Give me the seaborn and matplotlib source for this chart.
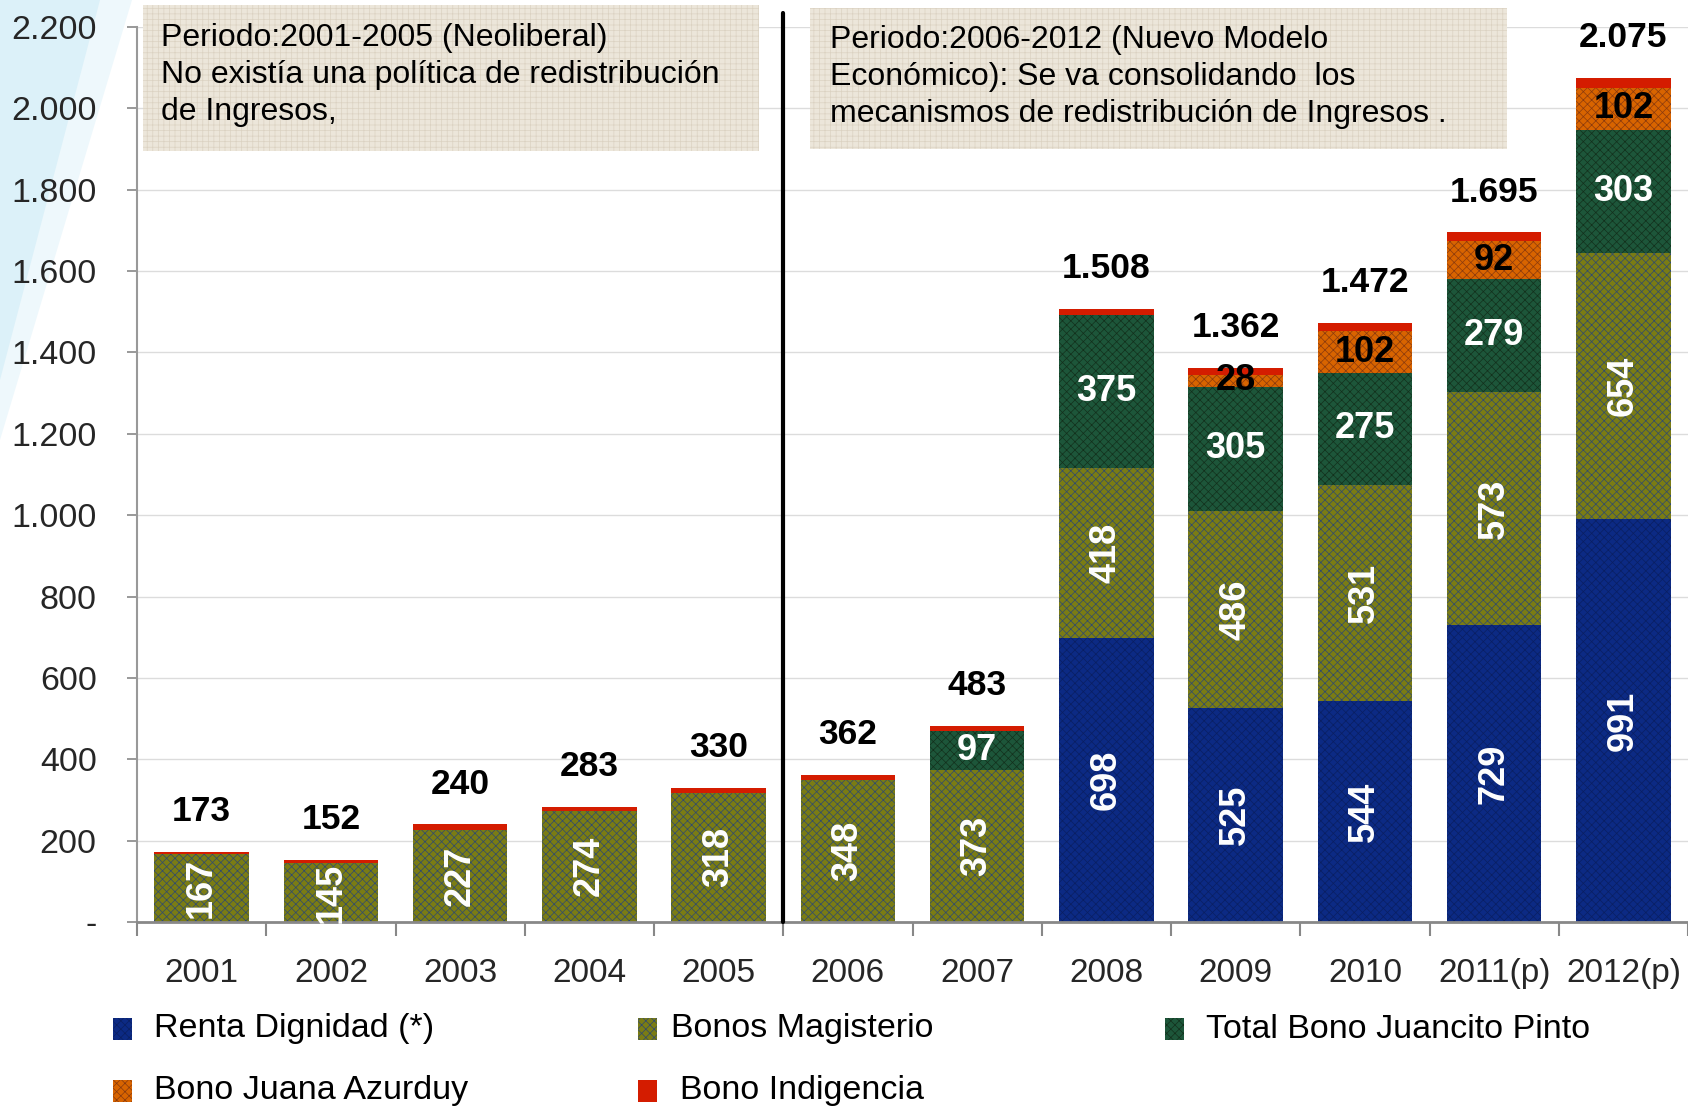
import matplotlib
matplotlib.use('Agg')
import matplotlib.pyplot as plt
import matplotlib.transforms as mtransforms
from matplotlib.patches import Rectangle, Polygon
import numpy as np
import seaborn as sns

# ---------------- data ----------------
years = ['2001', '2002', '2003', '2004', '2005', '2006', '2007',
         '2008', '2009', '2010', '2011(p)', '2012(p)']
renta_dignidad = [0, 0, 0, 0, 0, 0, 0, 698, 525, 544, 729, 991]
bonos_magisterio = [167, 145, 227, 274, 318, 348, 373, 418, 486, 531, 573, 654]
juancito_pinto = [0, 0, 0, 0, 0, 0, 97, 375, 305, 275, 279, 303]
juana_azurduy = [0, 0, 0, 0, 0, 0, 0, 0, 28, 102, 92, 102]
bono_indigencia = [6, 7, 13, 9, 12, 14, 13, 17, 18, 20, 22, 25]
totals = [173, 152, 240, 283, 330, 362, 483, 1508, 1362, 1472, 1695, 2075]
series_names = ['Renta Dignidad (*)', 'Bonos Magisterio', 'Total Bono Juancito Pinto',
                'Bono Juana Azurduy', 'Bono Indigencia']
y_ticks = [0, 200, 400, 600, 800, 1000, 1200, 1400, 1600, 1800, 2000, 2200]
box1_text = "Periodo:2001-2005 (Neoliberal)\nNo existía una política de redistribución\nde Ingresos,"
box2_text = "Periodo:2006-2012 (Nuevo Modelo\nEconómico): Se va consolidando  los\nmecanismos de redistribución de Ingresos ."

# ---------------- style ----------------
sns.set_theme(style='white')
plt.rcParams['font.family'] = ['Liberation Sans', 'DejaVu Sans']
plt.rcParams['hatch.linewidth'] = 0.5

W, H = 1688, 1106
fig = plt.figure(figsize=(W / 100, H / 100), dpi=100)
fig.patch.set_facecolor('white')

# decorative light-blue wedge at top-left
fig.patches.append(Polygon([[0, 1], [132 / W, 1], [0, 1 - 440 / H]], closed=True,
                           transform=fig.transFigure, facecolor='#eef8fc',
                           edgecolor='none', zorder=-2))
fig.patches.append(Polygon([[0, 1], [100 / W, 1], [0, 1 - 380 / H]], closed=True,
                           transform=fig.transFigure, facecolor='#dcf1f9',
                           edgecolor='none', zorder=-1))

ax_left, ax_bottom, ax_top = 137, 922, 27
ax = fig.add_axes([ax_left / W, 1 - ax_bottom / H, 1 - ax_left / W, (ax_bottom - ax_top) / H])
ax.set_facecolor('none')

styles = [
    ('#0c2a84', '#0a1f62', 'xxxx'),
    ('#7a7c14', '#2f4a70', 'xxxx'),
    ('#1d563a', '#13301c', 'xxxx'),
    ('#d86400', '#8a3a0e', 'xxxx'),
    ('#d41c00', '#d41c00', ''),
]
layers = [renta_dignidad, bonos_magisterio, juancito_pinto, juana_azurduy, bono_indigencia]

bottom = np.zeros(len(years))
for vals, (face, hcol, hatch) in zip(layers, styles):
    sns.barplot(x=years, y=vals, bottom=bottom.copy(), color=face, saturation=1,
                width=0.73, errorbar=None, ax=ax, edgecolor=hcol, linewidth=0,
                hatch=hatch, zorder=2)
    bottom += np.array(vals)

# ---------------- labels ----------------
fs_in = 26
for i in range(len(years)):
    b = 0
    if renta_dignidad[i]:
        ax.text(i, b + renta_dignidad[i] / 2, str(renta_dignidad[i]), rotation=90,
                color='white', ha='center', va='center', fontsize=fs_in, fontweight='bold', zorder=4)
    b += renta_dignidad[i]
    ax.text(i, b + bonos_magisterio[i] / 2, str(bonos_magisterio[i]), rotation=90,
            color='white', ha='center', va='center', fontsize=fs_in, fontweight='bold', zorder=4)
    b += bonos_magisterio[i]
    if juancito_pinto[i]:
        ax.text(i, b + juancito_pinto[i] / 2, str(juancito_pinto[i]), color='white',
                ha='center', va='center', fontsize=fs_in, fontweight='bold', zorder=4)
    b += juancito_pinto[i]
    if juana_azurduy[i]:
        ax.text(i, b + juana_azurduy[i] / 2, str(juana_azurduy[i]), color='black',
                ha='center', va='center', fontsize=fs_in, fontweight='bold', zorder=4)
    t = totals[i]
    lab = f"{t:,}".replace(',', '.')
    ax.annotate(lab, (i, t), xytext=(0, 29), textcoords='offset points',
                ha='center', va='center', fontsize=25.5, fontweight='bold', color='black',
                zorder=4, annotation_clip=False)

# ---------------- axes ----------------
ax.set_ylim(0, 2200)
ax.set_xlim(-0.5, len(years) - 0.5)
ax.set_yticks(y_ticks)
ax.set_yticklabels(['-' if v == 0 else f"{v:,}".replace(',', '.') for v in y_ticks])
ax.yaxis.grid(True, color='#dcdcdc', lw=1, zorder=0)
ax.set_axisbelow(True)
ax.tick_params(axis='y', which='major', direction='out', length=7, width=1.2,
               color='#888888', pad=22, labelsize=24.5, left=True)

ax.set_xticks(np.arange(-0.5, len(years), 1.0))
ax.set_xticklabels([])
ax.set_xticks(np.arange(len(years)), minor=True)
ax.set_xticklabels(years, minor=True)
ax.tick_params(axis='x', which='major', direction='out', length=10, width=1.5,
               color='#888888', bottom=True)
ax.tick_params(axis='x', which='minor', length=0, pad=26, labelsize=24)
ax.set_xlabel('')
ax.set_ylabel('')
for s in ['top', 'right']:
    ax.spines[s].set_visible(False)
ax.spines['left'].set_color('#999999')
ax.spines['left'].set_linewidth(1.5)
ax.spines['bottom'].set_color('#888888')
ax.spines['bottom'].set_linewidth(2)

# divider line between periods
trans = mtransforms.blended_transform_factory(ax.transData, ax.transAxes)
ax.plot([4.5, 4.5], [0, (ax_bottom - 13) / (ax_bottom - ax_top)], transform=trans,
        color='black', lw=3, clip_on=False, zorder=5)

# ---------------- annotation boxes ----------------
def fig_rect(x0, y0, x1, y1, **kw):
    r = Rectangle((x0 / W, 1 - y1 / H), (x1 - x0) / W, (y1 - y0) / H,
                  transform=fig.transFigure, **kw)
    fig.patches.append(r)
    return r

for (x0, y0, x1, y1) in [(143, 5, 759, 151), (810, 8, 1507, 149)]:
    fig_rect(x0, y0, x1, y1, facecolor='#ece6da', edgecolor='#dbd2c2', linewidth=0,
             hatch='+++', zorder=3)

fig.text(161 / W, 1 - 75 / H, box1_text, ha='left', va='center', fontsize=23,
         linespacing=1.32, color='black', zorder=6)
fig.text(830 / W, 1 - 77 / H, box2_text, ha='left', va='center', fontsize=23,
         linespacing=1.32, color='black', zorder=6)

# ---------------- legend (manual) ----------------
legend_items = [
    (0, 113, 154, 1029), (1, 638, 671, 1029), (2, 1165, 1206, 1029),
    (3, 113, 154, 1091), (4, 638, 680, 1091),
]
for idx, mx, tx, cy in legend_items:
    face, hcol, hatch = styles[idx]
    fig_rect(mx, cy - 11, mx + 19, cy + 11, facecolor=face, edgecolor=hcol,
             linewidth=0, hatch=hatch, zorder=3)
    fig.text(tx / W, 1 - cy / H, series_names[idx], ha='left', va='center',
             fontsize=24.5, color='black')

fig.savefig('out.png', dpi=100)
